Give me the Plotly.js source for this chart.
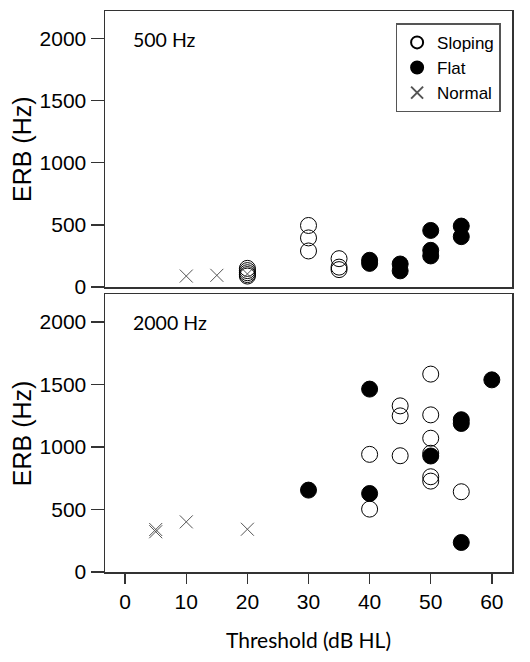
<!DOCTYPE html>
<html>
<head>
<meta charset="utf-8">
<script src="https://cdn.plot.ly/plotly-3.0.1.min.js"></script>
<style>html,body{margin:0;padding:0;background:#fff;}#chart{width:530px;height:662px;}</style>
</head>
<body>
<div id="chart"></div>
<script>
// ---- 500 Hz panel data ----
const sloping500X = [20, 20, 20, 20, 20, 30, 30, 30, 35, 35, 35];
const sloping500Y = [150, 132, 115, 100, 88, 495, 395, 290, 228, 160, 140];
const flat500X = [40, 40, 45, 45, 50, 50, 50, 55, 55];
const flat500Y = [215, 190, 185, 130, 455, 295, 250, 490, 405];
const normal500X = [10, 15, 20];
const normal500Y = [88, 94, 105];

// ---- 2000 Hz panel data ----
const sloping2000X = [40, 40, 45, 45, 45, 50, 50, 50, 50, 50, 50, 55];
const sloping2000Y = [941, 503, 1329, 1249, 930, 1583, 1257, 1070, 950, 762, 727, 642];
const flat2000X = [30, 40, 40, 50, 55, 55, 55, 60];
const flat2000Y = [655, 1463, 628, 928, 1218, 1188, 236, 1537];
const normal2000X = [5, 5, 10, 20];
const normal2000Y = [340, 322, 401, 342];

const xTicks = [0, 10, 20, 30, 40, 50, 60];
const yTicks = [0, 500, 1000, 1500, 2000];
const panelLabels = ['500 Hz', '2000 Hz'];
const yTitle = 'ERB (Hz)';
const xTitle = 'Threshold (dB HL)';

const SANS = 'Liberation Sans, Arial, sans-serif';

const openMarker = {symbol: 'circle-open', size: 16, color: '#000', line: {width: 1, color: '#000'}};
const fillMarker = {symbol: 'circle', size: 16, color: '#000', line: {width: 1, color: '#000'}};
const xMarker = {symbol: 'x-thin-open', size: 13, color: '#555', line: {width: 1, color: '#555'}};

const traces = [
  {x: sloping500X, y: sloping500Y, xaxis: 'x2', yaxis: 'y2', mode: 'markers', name: 'Sloping', marker: openMarker},
  {x: flat500X, y: flat500Y, xaxis: 'x2', yaxis: 'y2', mode: 'markers', name: 'Flat', marker: fillMarker},
  {x: normal500X, y: normal500Y, xaxis: 'x2', yaxis: 'y2', mode: 'markers', name: 'Normal', marker: xMarker},
  {x: sloping2000X, y: sloping2000Y, xaxis: 'x', yaxis: 'y', mode: 'markers', name: 'Sloping', marker: openMarker, showlegend: false},
  {x: flat2000X, y: flat2000Y, xaxis: 'x', yaxis: 'y', mode: 'markers', name: 'Flat', marker: fillMarker, showlegend: false},
  {x: normal2000X, y: normal2000Y, xaxis: 'x', yaxis: 'y', mode: 'markers', name: 'Normal', marker: xMarker, showlegend: false}
];

const tickFont = {family: SANS, size: 21, color: '#000'};
const yCommon = {
  range: [0, 2220], tickvals: yTicks, ticktext: yTicks.map(String),
  ticks: 'outside', ticklen: 13, tickwidth: 1.5, tickcolor: '#333',
  showline: true, mirror: true, linecolor: '#333', linewidth: 1.5,
  showgrid: false, zeroline: false, tickfont: tickFont, automargin: false
};

const titleFont = {family: SANS, size: 25, color: '#000'};
const labelFont = {family: 'Lato, sans-serif', size: 19.5, color: '#000'};

const layout = {
  width: 530, height: 662,
  margin: {l: 105, r: 18, t: 11, b: 90},
  paper_bgcolor: '#fff', plot_bgcolor: '#fff',
  showlegend: true,
  legend: {
    x: 0.714, y: 0.978, xanchor: 'left', yanchor: 'top',
    bgcolor: '#fff', bordercolor: '#555', borderwidth: 1.5,
    font: {family: SANS, size: 17, color: '#000'},
    itemsizing: 'constant', itemwidth: 30, tracegroupgap: 0
  },
  xaxis: {
    domain: [0, 1], anchor: 'y', range: [-3.3, 63.3],
    tickvals: xTicks, ticktext: xTicks.map(String),
    ticks: 'outside', ticklen: 10, tickwidth: 1.5, tickcolor: '#333',
    showline: true, mirror: true, linecolor: '#333', linewidth: 1.5,
    showgrid: false, zeroline: false, tickfont: tickFont, automargin: false,
    title: {text: xTitle, font: {family: 'Lato, sans-serif', size: 21, color: '#000'}, standoff: 21}
  },
  yaxis: Object.assign({}, yCommon, {domain: [0, 0.4947], anchor: 'x'}),
  xaxis2: {
    domain: [0, 1], anchor: 'y2', range: [-3.3, 63.3], matches: 'x',
    showticklabels: false, ticks: '',
    showline: true, mirror: true, linecolor: '#333', linewidth: 1.5,
    showgrid: false, zeroline: false
  },
  yaxis2: Object.assign({}, yCommon, {domain: [0.508, 1], anchor: 'x2'}),
  annotations: [
    {text: yTitle, xref: 'paper', yref: 'y2 domain', x: -0.204, y: 0.5, xanchor: 'center', yanchor: 'middle', textangle: -90, showarrow: false, font: titleFont},
    {text: yTitle, xref: 'paper', yref: 'y domain', x: -0.204, y: 0.5, xanchor: 'center', yanchor: 'middle', textangle: -90, showarrow: false, font: titleFont},
    {text: panelLabels[0], xref: 'x2 domain', yref: 'y2 domain', x: 0.065, y: 0.895, xanchor: 'left', yanchor: 'middle', showarrow: false, font: labelFont},
    {text: panelLabels[1], xref: 'x domain', yref: 'y domain', x: 0.065, y: 0.9, xanchor: 'left', yanchor: 'middle', showarrow: false, font: labelFont}
  ]
};

Plotly.newPlot('chart', traces, layout, {displayModeBar: false, staticPlot: true});
</script>
</body>
</html>
